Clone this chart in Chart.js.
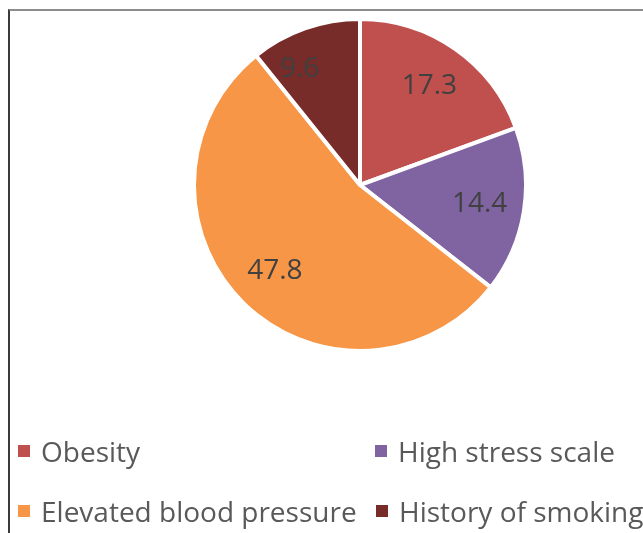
<!DOCTYPE html>
<html lang="en">
<head>
<meta charset="UTF-8">
<title>Risk factors pie</title>
<script src="https://cdn.jsdelivr.net/npm/chart.js"></script>
<style>
  html, body { margin: 0; padding: 0; background: #fff; }
  body { width: 643px; height: 533px; overflow: hidden; position: relative; font-family: "Open Sans", sans-serif; }
  .frame { position: absolute; left: 8px; top: 9px; right: -2px; bottom: -2px; border-top: 2px solid #8c8c8c; border-left: 2px solid #3a3a3a; }
  .pie { position: absolute; left: 192px; top: 17px; width: 336px; height: 336px; }
  .legend { position: absolute; left: 0; top: 0; width: 643px; height: 533px; pointer-events: none; }
  .item { position: absolute; display: flex; align-items: center; white-space: nowrap; color: #595959; font-size: 28px; line-height: 28px; height: 28px; }
  .item i { display: inline-block; width: 12px; height: 12px; margin-right: 11px; flex: none; }
</style>
</head>
<body>
<div class="frame"></div>
<div class="pie"><canvas id="pieChart"></canvas></div>
<div class="legend" id="legend"></div>
<script>
  // Valores
  const categories = ['Obesity', 'High stress scale', 'Elevated blood pressure', 'History of smoking'];
  const values = [17.3, 14.4, 47.8, 9.6];
  const colors = ['#C0504D', '#8064A2', '#F79646', '#772C2A'];

  // Rótulos dentro das fatias (fatias estreitas ficam um pouco mais para fora)
  const sliceLabels = {
    id: 'sliceLabels',
    afterDatasetsDraw(chart) {
      const ctx = chart.ctx;
      const meta = chart.getDatasetMeta(0);
      ctx.save();
      ctx.font = '28px "Open Sans", sans-serif';
      ctx.fillStyle = '#404040';
      ctx.textAlign = 'center';
      ctx.textBaseline = 'middle';
      meta.data.forEach((arc, i) => {
        const p = arc.getProps(['x', 'y', 'startAngle', 'endAngle', 'outerRadius'], true);
        const span = p.endAngle - p.startAngle;
        const mid = (p.startAngle + p.endAngle) / 2 - (span < 0.8 ? 0.14 : 0);
        const r = p.outerRadius * (span < 0.8 ? 0.79 : 0.73);
        ctx.fillText(String(values[i]), p.x + Math.cos(mid) * r, p.y + Math.sin(mid) * r);
      });
      ctx.restore();
    }
  };

  new Chart(document.getElementById('pieChart'), {
    type: 'pie',
    data: {
      labels: categories,
      datasets: [{
        data: values,
        backgroundColor: colors,
        borderColor: '#ffffff',
        borderWidth: 4
      }]
    },
    options: {
      responsive: true,
      maintainAspectRatio: false,
      animation: false,
      layout: { padding: 0 },
      plugins: {
        legend: { display: false },
        tooltip: { enabled: false }
      }
    },
    plugins: [sliceLabels]
  });

  // Legenda em duas colunas
  const legendPos = [[18, 437], [375, 437], [18, 497], [376, 497]];
  const legend = document.getElementById('legend');
  categories.forEach((name, i) => {
    const el = document.createElement('div');
    el.className = 'item';
    el.style.left = legendPos[i][0] + 'px';
    el.style.top = legendPos[i][1] + 'px';
    el.innerHTML = '<i style="background:' + colors[i] + '"></i>' + name;
    legend.appendChild(el);
  });
</script>
</body>
</html>
